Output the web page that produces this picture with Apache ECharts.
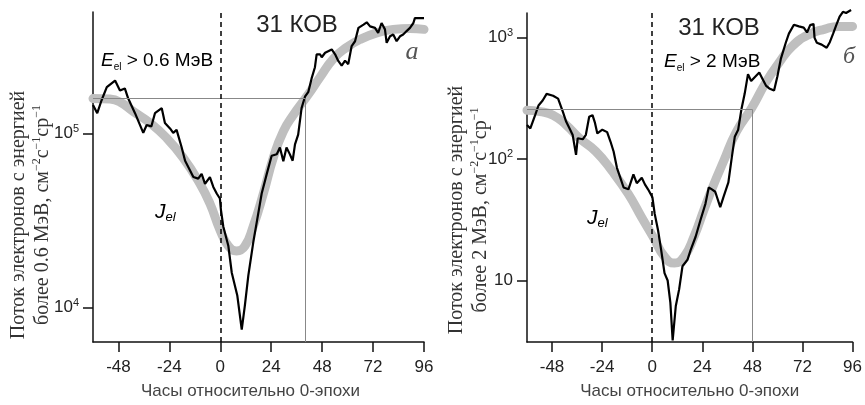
<!DOCTYPE html>
<html><head><meta charset="utf-8">
<script src="https://cdn.jsdelivr.net/npm/echarts@6/dist/echarts.min.js"></script>
<style>html,body{margin:0;padding:0;background:#fff}#c{width:865px;height:405px}</style>
</head><body><div id="c"></div><script>
// ---- data (hours relative to epoch 0, electron flux) ----
const hourTicks = [-48, -24, 0, 24, 48, 72, 96];
const fluxTicksA = [1e4, 1e5];
const fluxTicksB = [10, 100, 1000];

const blackA = [[-60,146000],[-58,131000],[-56,155000],[-53.5,185000],[-49.6,202000],[-47.3,177000],[-45,182000],[-43.4,159000],[-40.2,131000],[-36.3,101000],[-34.7,112000],[-32.5,110000],[-30.8,131000],[-27.6,140000],[-26.1,115000],[-23.7,107000],[-22.2,101000],[-20.6,105000],[-18.2,83200],[-16.6,69800],[-12.7,56200],[-10.4,55000],[-8.8,58600],[-7.2,51400],[-4.9,56100],[-3.3,49300],[-1.7,45200],[-0.2,42300],[0.3,36300],[1.4,29200],[3.8,22500],[5.4,15800],[8,11700],[10.1,7430],[11.6,10300],[13.2,15200],[15.5,23500],[17.1,30500],[19.5,45200],[21.9,58600],[24.2,74500],[26.6,76000],[28.1,83200],[29.7,69200],[31.2,83200],[32.8,75900],[34.1,69800],[35.2,86700],[36.7,98600],[38.3,140000],[39.9,163000],[41.5,174000],[43,207000],[44.6,241000],[45.4,286000],[47,286000],[47.8,275000],[49.4,292000],[52.5,305000],[54.1,286000],[55.6,262000],[57.2,246000],[58.8,263000],[60.3,251000],[61.9,319000],[63.5,340000],[65.1,406000],[67.5,424000],[69,437000],[70.6,414000],[72.9,406000],[74.4,380000],[76,433000],[77.6,398000],[78.4,333000],[80,363000],[81.5,372000],[83.1,340000],[84.7,363000],[86.2,372000],[87.8,389000],[89.4,406000],[91,433000],[91.7,462000],[93.3,462000],[96,462000]];
const grayA = [[-60,159000],[-52,158000],[-47.3,152000],[-41,134000],[-33.1,115000],[-25.4,94600],[-17.6,72800],[-9.6,51400],[-4.9,39600],[-0.2,28000],[3.8,22500],[7.7,21100],[11.6,22500],[15.5,29200],[20.3,45200],[25,72800],[29.7,103000],[34.4,128000],[40.7,163000],[47,211000],[53.2,269000],[59.5,313000],[65.8,348000],[73.7,380000],[81.5,398000],[89.4,403000],[96,398000]];
const blackB = [[-60,190],[-58.4,178],[-56.1,229],[-54.5,275],[-52.5,302],[-50.6,343],[-47.5,331],[-45.1,313],[-42.8,244],[-41.2,202],[-39.6,178],[-38.1,157],[-36.5,108],[-35.7,148],[-33.3,145],[-31.8,158],[-30.2,222],[-28.6,229],[-27.5,200],[-26.3,162],[-23.9,174],[-21.6,166],[-20,139],[-18.5,115],[-16.9,84.5],[-15.3,70.1],[-13.7,58.2],[-11.4,56.2],[-9,74.6],[-7.4,63.1],[-5,70.1],[-3.5,61.7],[-2,56.2],[0.1,48.3],[1.2,35.3],[2.8,25.9],[4.3,17.8],[5.9,11.5],[7.4,10],[8.7,6.58],[9.8,3.22],[11.3,6.17],[12.9,8.45],[14.5,13.1],[16.9,14.8],[18.4,17.8],[20.8,22.9],[23.1,31.3],[25.5,42.7],[27.1,58.2],[28.6,56.2],[30.2,53.7],[32.6,40.1],[34.1,48.3],[36.5,64],[38.1,102],[39.6,153],[41.2,174],[42.8,259],[44.3,343],[45.9,498],[47.4,437],[49,468],[51.3,513],[52.8,457],[54.5,401],[56.1,380],[58.4,365],[60,479],[61.6,661],[64,902],[65.5,1072],[67.9,1268],[70.3,1230],[72.6,1202],[74.2,1096],[75.7,1259],[77.3,1288],[77.8,989],[78.9,902],[81.2,871],[83.6,820],[85.1,912],[86.7,1072],[88.2,1259],[89.8,1479],[91.4,1622],[92.9,1585],[95.3,1679]];
const grayB = [[-60,251],[-53.7,245],[-47.5,229],[-41.2,190],[-34.9,148],[-27,115],[-19.2,79.4],[-11.4,51.3],[-5.1,33.1],[0.4,22.9],[5.9,15.7],[10.6,13.9],[15.3,15.7],[20,22.9],[24.7,37.7],[29.5,61.7],[34.2,95.5],[40.4,168],[47.5,259],[54.5,427],[60.8,619],[67.1,845],[75,1052],[82.8,1169],[89.1,1230],[96,1230]];
const refA = [40, 159000];
const refB = [48, 255];
const rangeA = [6310, 501000];
const rangeB = [3.12, 1585];
const hourRange = [-60, 96];

// ---- styling ----
const SANS = '"Liberation Sans", Arial, sans-serif';
const SERIF = '"Liberation Serif", "Times New Roman", serif';

function xAx(gi, padR) {
  return {
    type: 'value', gridIndex: gi, min: hourRange[0], max: hourRange[1],
    axisLine: { show: true, onZero: false, lineStyle: { color: '#111', width: 1.5 } },
    axisTick: { show: true, customValues: hourTicks, length: 10, lineStyle: { color: '#111', width: 1.5 } },
    axisLabel: { customValues: hourTicks, margin: 17, fontSize: 17, color: '#222', fontFamily: SANS },
    splitLine: { show: false },
    name: 'Часы относительно 0-эпохи', nameLocation: 'middle', nameGap: 41,
    nameTextStyle: { fontSize: 17, color: '#444', fontFamily: SANS, padding: [0, padR, 0, 0] }
  };
}
function yAx(gi, range, ticks) {
  return {
    type: 'log', logBase: 10, gridIndex: gi, min: range[0], max: range[1],
    axisLine: { show: true, onZero: false, lineStyle: { color: '#111', width: 1.5 } },
    axisTick: { show: true, customValues: ticks, length: 10, lineStyle: { color: '#111', width: 1.5 } },
    axisLabel: {
      customValues: ticks, margin: 14, color: '#222', fontFamily: SANS, fontSize: 17,
      formatter: function (v) {
        const e = Math.round(Math.log10(v));
        return e === 1 ? '{b|10}' : '{b|10}{s|' + e + '}';
      },
      rich: {
        b: { fontSize: 17, fontFamily: SANS, color: '#222', lineHeight: 20 },
        s: { fontSize: 11, fontFamily: SANS, color: '#222', verticalAlign: 'top', lineHeight: 20, padding: [0, 0, 8, 0] }
      }
    },
    splitLine: { show: false }
  };
}
function refLines(ref, range) {
  const st = { color: '#888', width: 1, type: 'solid' };
  return [
    [{ coord: [hourRange[0], ref[1]], lineStyle: st }, { coord: [ref[0], ref[1]] }],
    [{ coord: [ref[0], ref[1]], lineStyle: st }, { coord: [ref[0], range[0]] }]
  ];
}
function panelSeries(gi, black, gray, ref, range) {
  return [
    { type: 'line', xAxisIndex: gi, yAxisIndex: gi, data: gray, smooth: 0.5, showSymbol: false, z: 2,
      lineStyle: { color: '#bfbfbf', width: 9, cap: 'round' }, silent: true,
      markLine: { silent: true, symbol: ['none', 'none'], label: { show: false }, data: refLines(ref, range) } },
    { type: 'line', xAxisIndex: gi, yAxisIndex: gi, data: black, showSymbol: false, z: 3, clip: false,
      lineStyle: { color: '#000', width: 2.2 }, silent: true,
      markLine: { silent: true, symbol: ['none', 'none'], label: { show: false },
        data: [{ xAxis: 0, lineStyle: { color: '#000', width: 1.5, type: [5, 4] } }] } }
  ];
}

const yNameRich = {
  n: { fontSize: 20, fontFamily: SERIF, color: '#333', lineHeight: 24 },
  s: { fontSize: 12, fontFamily: SERIF, color: '#333', lineHeight: 24, verticalAlign: 'top', padding: [0, 0, 9, 0] }
};
function yName(x, y, energy) {
  return {
    type: 'text', x: x, y: y, rotation: Math.PI / 2, silent: true,
    style: {
      text: '{n|Поток электронов с энергией}\n{n|более ' + energy + ' МэВ, см}{s|−2}{n|с}{s|−1}{n|ср}{s|−1}',
      rich: yNameRich, align: 'center', verticalAlign: 'middle', fill: '#333'
    }
  };
}
function txt(x, y, text, size, extra) {
  return Object.assign({ type: 'text', x: x, y: y, silent: true,
    style: { text: text, fontSize: size, fontFamily: SANS, fill: '#222', align: 'center', verticalAlign: 'middle' } }, extra || {});
}
function energyLabel(x, y, val) {
  return { type: 'text', x: x, y: y, silent: true,
    style: { text: '{e|E}{sub|el}{n| > ' + val + ' МэВ}', align: 'left', verticalAlign: 'middle',
      rich: {
        e: { fontSize: 19, fontFamily: SANS, fontStyle: 'italic', color: '#222', lineHeight: 22 },
        sub: { fontSize: 10, fontFamily: SANS, color: '#222', lineHeight: 22, verticalAlign: 'bottom', padding: [6, 0, 0, 0] },
        n: { fontSize: 19, fontFamily: SANS, color: '#222', lineHeight: 22 }
      } } };
}
function jLabel(x, y) {
  return { type: 'text', x: x, y: y, silent: true,
    style: { text: '{j|J}{sub|el}', align: 'left', verticalAlign: 'middle',
      rich: {
        j: { fontSize: 21, fontFamily: SANS, fontStyle: 'italic', color: '#333', lineHeight: 24 },
        sub: { fontSize: 13, fontFamily: SANS, fontStyle: 'italic', color: '#333', lineHeight: 24, verticalAlign: 'bottom', padding: [6, 0, 0, 0] }
      } } };
}

const chart = echarts.init(document.getElementById('c'), null, { renderer: 'canvas' });
chart.setOption({
  backgroundColor: '#fff',
  animation: false,
  grid: [
    { left: 93, top: 12, width: 331, height: 335 },
    { left: 527, top: 13, width: 331, height: 334 }
  ],
  xAxis: [xAx(0, 16), xAx(1, 0)],
  yAxis: [yAx(0, rangeA, fluxTicksA), yAx(1, rangeB, fluxTicksB)],
  series: [].concat(panelSeries(0, blackA, grayA, refA, rangeA), panelSeries(1, blackB, grayB, refB, rangeB)),
  graphic: [
    yName(31, 215, '0.6'),
    yName(469, 210, '2'),
    txt(297, 25, '31 КОВ', 24),
    txt(719, 28, '31 КОВ', 24),
    energyLabel(101, 61, '0.6'),
    energyLabel(664, 62, '2'),
    jLabel(155, 212),
    jLabel(587, 218),
    txt(412, 52, 'а', 26, { style: { text: 'а', fontSize: 26, fontFamily: SERIF, fontStyle: 'italic', fill: '#555', align: 'center', verticalAlign: 'middle' } }),
    txt(849, 57, 'б', 24, { style: { text: 'б', fontSize: 24, fontFamily: SERIF, fontStyle: 'italic', fill: '#555', align: 'center', verticalAlign: 'middle' } })
  ]
});
</script></body></html>
